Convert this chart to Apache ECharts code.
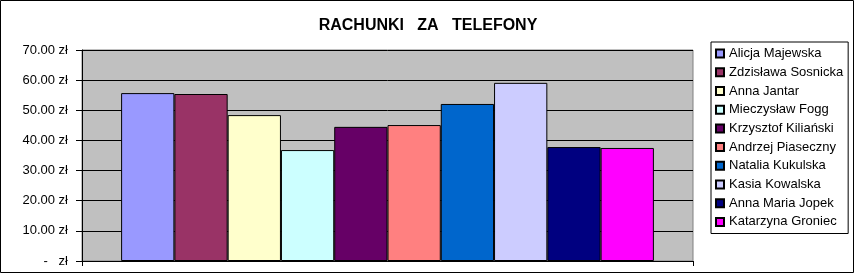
<!DOCTYPE html>
<html><head><meta charset="utf-8">
<script src="https://cdn.jsdelivr.net/npm/echarts@6/dist/echarts.min.js"></script>
<style>html,body{margin:0;padding:0;background:#fff}#c{width:855px;height:275px}</style>
</head><body><div id="c"></div>
<script>
var names = ['Alicja Majewska','Zdzisława Sosnicka','Anna Jantar','Mieczysław Fogg','Krzysztof Kiliański','Andrzej Piaseczny','Natalia Kukulska','Kasia Kowalska','Anna Maria Jopek','Katarzyna Groniec'];
var values = [55.7, 55.4, 48.4, 36.8, 44.5, 45.1, 52.1, 59.1, 37.8, 37.5];
var colors = ['#9999FF','#993366','#FFFFCC','#CCFFFF','#660066','#FF8080','#0066CC','#CCCCFF','#000080','#FF00FF'];
var categories = [''];
var yTicks = [0,10,20,30,40,50,60,70];
var title = 'RACHUNKI   ZA   TELEFONY';

var font = 'Liberation Sans, Arial, sans-serif';
var chart = echarts.init(document.getElementById('c'), null, {renderer:'canvas'});
var series = names.map(function(n,i){
  return {
    name:n, type:'bar', data:[values[i]],
    barGap:'0%', barCategoryGap:'12.8%',
    itemStyle:{color:colors[i], borderColor:'#000', borderWidth:1},
    emphasis:{disabled:true}
  };
});
chart.setOption({
  animation:false,
  backgroundColor:'#fff',
  title:{text:title, left:423, textAlign:'center', top:13,
    textStyle:{fontFamily:font, fontSize:16, fontWeight:'bold', color:'#000'}},
  legend:{orient:'vertical', left:711, top:42, data:names,
    padding:[4.6,5,4.6,4], itemWidth:8, itemHeight:8, itemGap:4.7,
    borderColor:'#000', borderWidth:1, icon:'rect',
    textStyle:{fontFamily:font, fontSize:13, color:'#000', lineHeight:14}},
  grid:{left:82, right:162, top:50, bottom:14, show:true, backgroundColor:'#C0C0C0', borderColor:'#808080', borderWidth:1},
  xAxis:{type:'category', data:categories,
    axisLine:{lineStyle:{color:'#000', width:1}},
    axisTick:{show:true, length:5, inside:false, lineStyle:{color:'#000'}},
    axisLabel:{show:false}},
  yAxis:{type:'value', min:yTicks[0], max:yTicks[yTicks.length-1], interval:10,
    axisLine:{show:true, lineStyle:{color:'#000', width:1}},
    axisTick:{show:true, length:6, lineStyle:{color:'#000'}},
    splitLine:{show:true, lineStyle:{color:'#000', width:1}},
    axisLabel:{margin:14, fontFamily:font, fontSize:13, color:'#000',
      formatter:function(v){ return v===0 ? '-   zł' : v.toFixed(2)+' zł'; }}},
  series:series,
  graphic:[{type:'rect', shape:{x:0.5,y:0.5,width:853,height:272}, style:{fill:null, stroke:'#000', lineWidth:1}, silent:true}]
});
</script></body></html>
